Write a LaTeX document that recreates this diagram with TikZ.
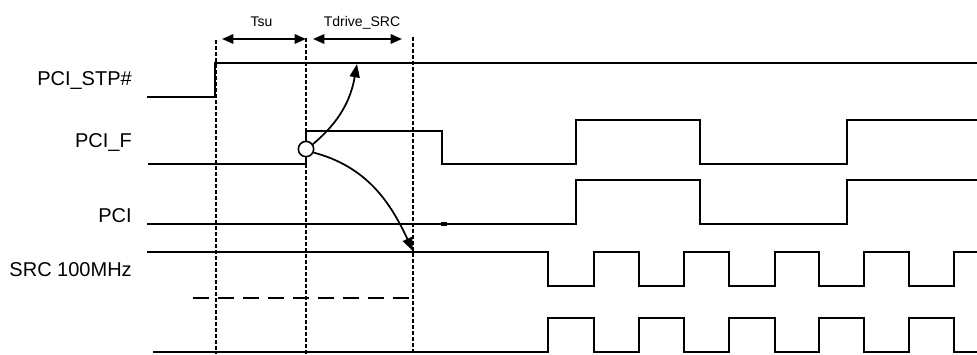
\documentclass[tikz,border=0pt]{standalone}
\usepackage{fontspec}
\setmainfont{Liberation Sans}
\usetikzlibrary{arrows.meta}
\begin{document}
\begin{tikzpicture}[x=0.75pt,y=-0.75pt,
  sig/.style={line width=1.5pt, line join=miter},
  guide/.style={line width=1.2pt, dash pattern=on 3pt off 1.5pt},
  lab/.style={anchor=base east, font=\fontsize{15}{18}\selectfont, inner sep=0pt},
  tlab/.style={anchor=base, font=\fontsize{10.5}{12}\selectfont, inner sep=0pt},
  span/.style={line width=1.5pt, {Triangle[length=8.5pt,width=7pt]}-{Triangle[length=8.5pt,width=7pt]}},
  cause/.style={line width=1.3pt, -{Triangle[length=10pt,width=7.5pt]}},
  event/.style={circle, draw, fill=white, line width=1.2pt, minimum size=11.5pt, inner sep=0pt}]
\useasboundingbox (0,0) rectangle (977,354);

% labels
\node[lab] (stp) at (132,85.5) {PCI\_STP\#};
\node[lab] (pcif) at (132,147.5) {PCI\_F};
\node[lab] (pci) at (132,222) {PCI};
\node[lab] (src) at (132,276) {SRC 100MHz};
\node[tlab] (tsu) at (261.5,26) {Tsu};
\node[tlab] (tdr) at (362,26) {Tdrive\_SRC};

% guide lines
\draw[guide] (216,40) -- (216,354);
\draw[guide] (306,38) -- (306,354);
\draw[guide] (413,37) -- (413,354);
\draw[line width=1.5pt, dash pattern=on 12pt off 6.75pt] (193,298) -- (413,298);

% span arrows
\coordinate (a1) at (222,39); \coordinate (a2) at (306,39);
\coordinate (b1) at (313,39); \coordinate (b2) at (402,39);
\draw[span] (a1) -- (a2);
\draw[span] (b1) -- (b2);

% signals
\draw[sig] (147,97) -- (215,97) -- (215,63) -- (977,63);
\draw[sig] (148,164) -- (306,164) -- (306,131) -- (442,131) -- (442,164) -- (576,164) -- (576,120) -- (700,120) -- (700,164) -- (847,164) -- (847,120) -- (977,120);
\draw[sig] (147,224) -- (576,224) -- (576,180) -- (700,180) -- (700,224) -- (847,224) -- (847,180) -- (977,180);
\draw[line width=2.4pt] (441,224) -- (447,224);
\draw[sig] (147,252) -- (548,252) -- (548,286) -- (594,286) -- (594,252) -- (639,252) -- (639,286) -- (684,286) -- (684,252) -- (729,252) -- (729,286) -- (775,286) -- (775,252) -- (819,252) -- (819,286) -- (864,286) -- (864,252) -- (909,252) -- (909,286) -- (954,286) -- (954,252) -- (977,252);
\draw[sig] (153,352) -- (548,352) -- (548,318) -- (594,318) -- (594,352) -- (639,352) -- (639,318) -- (684,318) -- (684,352) -- (729,352) -- (729,318) -- (775,318) -- (775,352) -- (819,352) -- (819,318) -- (864,318) -- (864,352) -- (909,352) -- (909,318) -- (954,318) -- (954,352) -- (977,352);

% event and causal arrows
\node[event] (c) at (306,149) {};
\coordinate (up) at (357,64);
\coordinate (down) at (413,251);
\draw[cause] (c.35) to[out=40,in=-100] (up);
\draw[cause] (c.-25) to[out=-15,in=115] (down);
\end{tikzpicture}
\end{document}
